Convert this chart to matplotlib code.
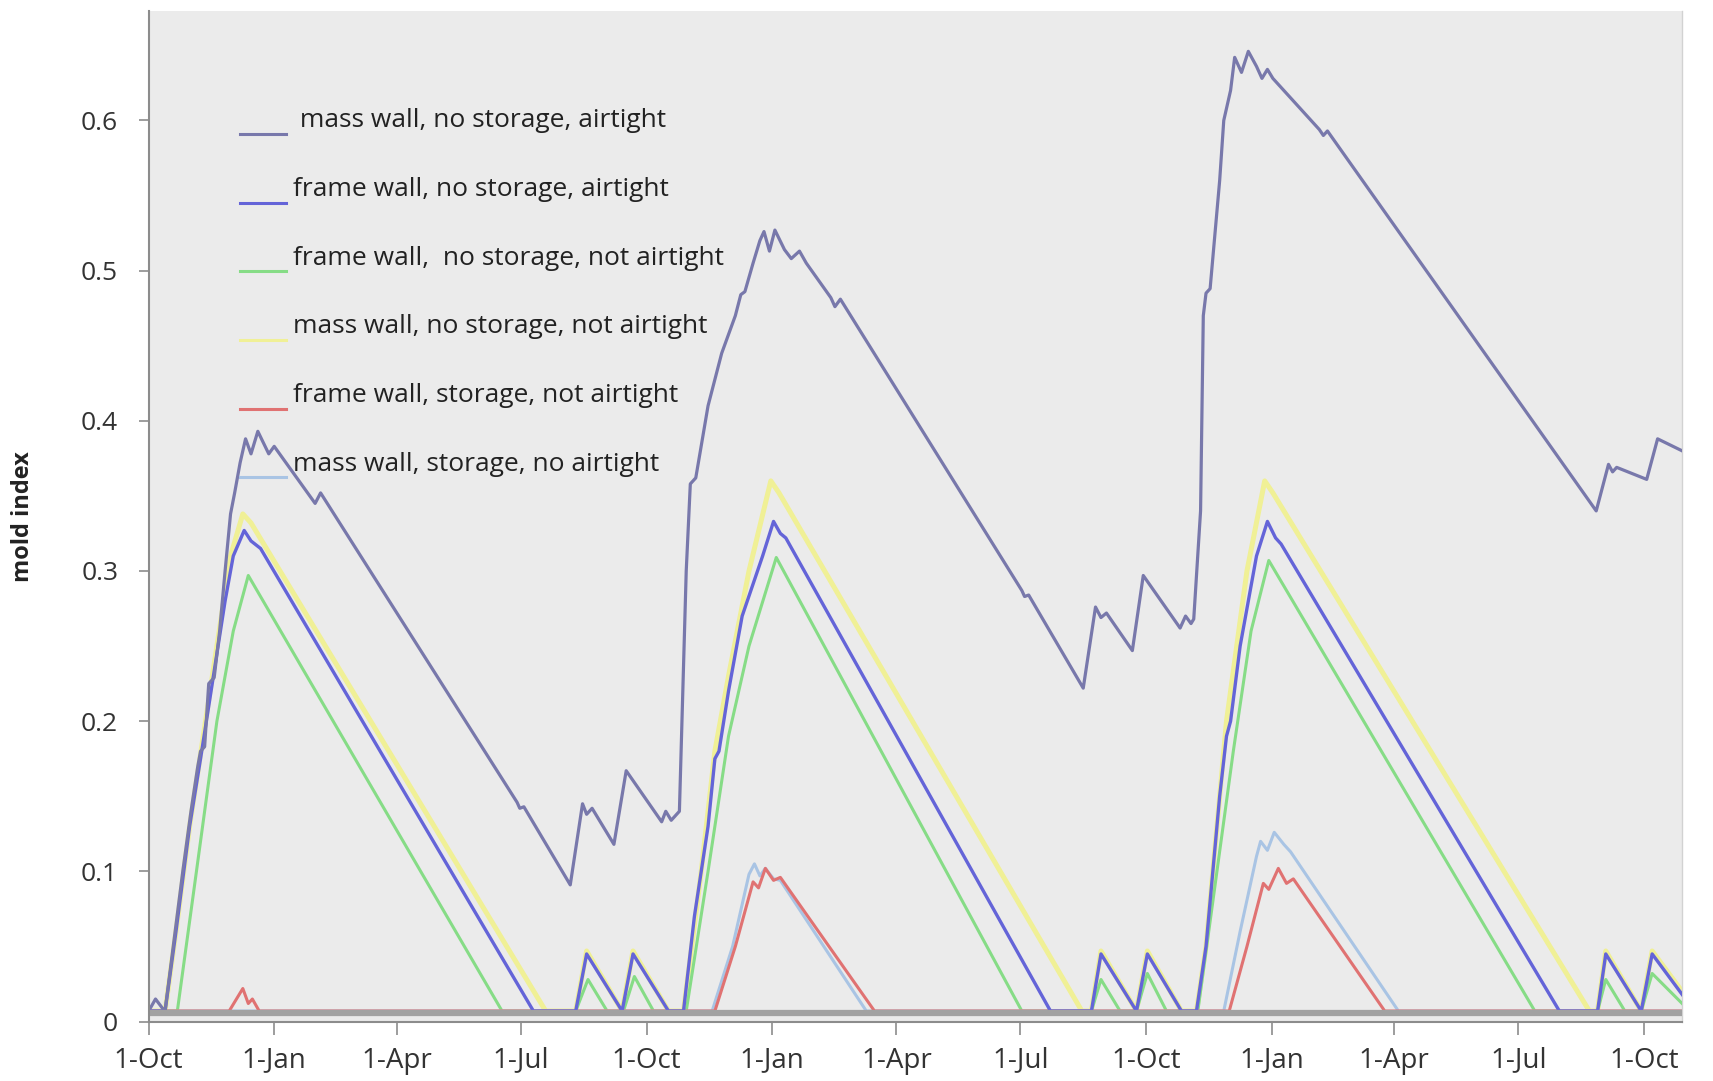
import pandas as pd
import matplotlib.pyplot as plt
import matplotlib.dates as mdates
from matplotlib.ticker import FuncFormatter

# data: (days after the first 1-Oct, mold index)
start_date = pd.Timestamp('2010-10-01')
end_day = 1124
baseline = 0.006

labels = [' mass wall, no storage, airtight',
          'frame wall, no storage, airtight',
          'frame wall,  no storage, not airtight',
          'mass wall, no storage, not airtight',
          'frame wall, storage, not airtight',
          'mass wall, storage, no airtight']

mass_airtight = [(0, 0.007), (5, 0.015), (10, 0.009), (12, 0.007), (18, 0.05), (25, 0.1), (31, 0.14),
                 (36, 0.17), (38, 0.18), (41, 0.183), (44, 0.225), (48, 0.229), (52, 0.26), (56, 0.3),
                 (60, 0.338), (63, 0.352), (67, 0.372), (71, 0.388), (75, 0.378), (80, 0.393), (88, 0.378),
                 (92, 0.383), (122, 0.345), (126, 0.352), (270, 0.146), (272, 0.142), (275, 0.143),
                 (309, 0.091), (318, 0.145), (321, 0.138), (325, 0.142), (341, 0.118), (350, 0.167),
                 (376, 0.133), (379, 0.14), (383, 0.134), (386, 0.137), (389, 0.14), (394, 0.3),
                 (397, 0.358), (401, 0.362), (410, 0.41), (420, 0.445), (430, 0.47), (434, 0.484),
                 (437, 0.486), (443, 0.505), (448, 0.52), (451, 0.526), (455, 0.513), (459, 0.527),
                 (466, 0.514), (471, 0.508), (477, 0.513), (482, 0.505), (500, 0.482), (503, 0.476),
                 (507, 0.481), (640, 0.287), (642, 0.283), (645, 0.284), (685, 0.222), (694, 0.276),
                 (698, 0.269), (702, 0.272), (721, 0.247), (729, 0.297), (756, 0.262), (760, 0.27),
                 (764, 0.265), (766, 0.268), (771, 0.34), (773, 0.47), (775, 0.485), (778, 0.488),
                 (785, 0.56), (788, 0.6), (793, 0.62), (796, 0.642), (801, 0.632), (806, 0.646),
                 (812, 0.636), (816, 0.628), (820, 0.634), (824, 0.628), (858, 0.594), (861, 0.59),
                 (864, 0.593), (1061, 0.34), (1070, 0.371), (1073, 0.366), (1076, 0.369), (1098, 0.361),
                 (1106, 0.388), (1124, 0.38)]

frame_airtight = [(0, 0.007), (12, 0.007), (20, 0.06), (30, 0.13), (38, 0.175), (44, 0.21), (50, 0.245),
                  (56, 0.28), (62, 0.31), (70, 0.327), (75, 0.32), (82, 0.315), (282, 0.007), (313, 0.007),
                  (321, 0.045), (347, 0.007), (355, 0.045), (381, 0.007), (392, 0.007), (400, 0.07),
                  (410, 0.13), (415, 0.175), (418, 0.18), (425, 0.22), (435, 0.27), (450, 0.31),
                  (458, 0.333), (463, 0.325), (467, 0.322), (661, 0.007), (691, 0.007), (698, 0.045),
                  (724, 0.007), (732, 0.045), (757, 0.007), (768, 0.007), (775, 0.05), (785, 0.15),
                  (790, 0.19), (793, 0.2), (800, 0.25), (812, 0.31), (820, 0.333), (826, 0.322),
                  (830, 0.318), (1034, 0.007), (1062, 0.007), (1068, 0.045), (1094, 0.007),
                  (1102, 0.045), (1124, 0.018)]

frame_not_airtight = [(0, 0.007), (21, 0.007), (35, 0.1), (50, 0.2), (62, 0.26), (73, 0.297), (259, 0.007),
                      (313, 0.007), (322, 0.028), (336, 0.007), (348, 0.007), (356, 0.03), (370, 0.007),
                      (394, 0.007), (410, 0.1), (425, 0.19), (440, 0.25), (460, 0.309), (640, 0.007),
                      (691, 0.007), (698, 0.028), (712, 0.007), (724, 0.007), (732, 0.032), (746, 0.007),
                      (769, 0.007), (780, 0.08), (795, 0.18), (808, 0.26), (821, 0.307), (1016, 0.007),
                      (1062, 0.007), (1068, 0.028), (1082, 0.007), (1094, 0.007), (1102, 0.032),
                      (1124, 0.012)]

mass_not_airtight = [(0, 0.007), (12, 0.007), (20, 0.06), (30, 0.13), (40, 0.19), (50, 0.25), (60, 0.31),
                     (69, 0.338), (75, 0.332), (291, 0.007), (313, 0.007), (321, 0.047), (347, 0.007),
                     (355, 0.047), (381, 0.007), (392, 0.007), (405, 0.1), (415, 0.18), (425, 0.23),
                     (440, 0.3), (456, 0.36), (462, 0.352), (684, 0.007), (691, 0.007), (698, 0.047),
                     (724, 0.007), (732, 0.047), (757, 0.007), (768, 0.007), (775, 0.05), (790, 0.2),
                     (805, 0.3), (818, 0.36), (824, 0.352), (1056, 0.007), (1062, 0.007), (1068, 0.047),
                     (1094, 0.007), (1102, 0.047), (1124, 0.02)]

frame_storage = [(0, 0.007), (59, 0.007), (69, 0.022), (73, 0.012), (76, 0.015), (81, 0.007), (415, 0.007),
                 (430, 0.05), (443, 0.093), (447, 0.089), (452, 0.102), (458, 0.094), (463, 0.096),
                 (532, 0.007), (792, 0.007), (805, 0.05), (817, 0.092), (821, 0.088), (828, 0.102),
                 (834, 0.092), (839, 0.095), (906, 0.007), (1124, 0.007)]

mass_storage = [(0, 0.007), (413, 0.007), (428, 0.05), (440, 0.098), (444, 0.105), (448, 0.097),
                (452, 0.102), (458, 0.095), (463, 0.094), (526, 0.007), (788, 0.007), (800, 0.06),
                (812, 0.11), (815, 0.12), (820, 0.114), (825, 0.126), (832, 0.118), (837, 0.113),
                (916, 0.007), (1124, 0.007)]

series = [mass_airtight, frame_airtight, frame_not_airtight, mass_not_airtight, frame_storage, mass_storage]
colors = ['#7878ab', '#6464d8', '#86dc86', '#f0f096', '#e07272', '#a9c4e4']
widths = [2.3, 2.4, 2.2, 3.6, 2.2, 2.2]
draw_order = [3, 2, 5, 4, 1, 0]

plt.rcParams['font.family'] = ['Open Sans', 'DejaVu Sans']

fig = plt.figure(figsize=(17.13, 10.81), dpi=100)
ax = fig.add_axes([0.0868, 0.055, 0.8952, 0.935])
ax.set_facecolor('#ebebeb')

for i in draw_order:
    days, vals = zip(*series[i])
    dates = start_date + pd.to_timedelta(list(days), unit='D')
    ax.plot(dates, vals, color=colors[i], linewidth=widths[i], zorder=2 + draw_order.index(i))

# grey band where all curves sit near zero
ax.axhline(baseline, color='#a2a2a2', linewidth=4.5, zorder=10)

ax.set_xlim(start_date, start_date + pd.Timedelta(days=end_day))
ax.set_ylim(0, 0.673)
ax.set_yticks([0, 0.1, 0.2, 0.3, 0.4, 0.5, 0.6])
ax.yaxis.set_major_formatter(FuncFormatter(lambda v, p: '0' if v == 0 else f'{v:.1f}'))

ax.xaxis.set_major_locator(mdates.MonthLocator(bymonth=[1, 4, 7, 10]))
ax.xaxis.set_major_formatter(FuncFormatter(
    lambda v, p: f"{mdates.num2date(v).day}-{mdates.num2date(v).strftime('%b')}"))

ax.spines['top'].set_visible(False)
ax.spines['right'].set_color('#d2d2d2')
ax.spines['right'].set_linewidth(1.0)
for s in ['left', 'bottom']:
    ax.spines[s].set_color('#8c8c8c')
    ax.spines[s].set_linewidth(1.5)
    ax.spines[s].set_zorder(11)

ax.tick_params(axis='y', length=7, width=1.2, color='#8c8c8c', pad=15, labelsize=19, labelcolor='#333333')
ax.tick_params(axis='x', length=9, width=1.2, color='#8c8c8c', pad=9, labelsize=20, labelcolor='#333333')

ax.set_ylabel('mold index', fontsize=17, fontweight='bold', color='#222222')
ax.yaxis.set_label_coords(-0.074, 0.5)

# legend drawn by hand: short line slightly below each label
for i, lab in enumerate(labels):
    y = 0.891 - i * 0.0679
    ax.plot([0.0598, 0.0897], [y - 0.013, y - 0.013], transform=ax.transAxes,
            color=colors[i], linewidth=2.2, zorder=12)
    ax.text(0.094, y, lab, transform=ax.transAxes, fontsize=19, va='center', ha='left',
            color='#222222', zorder=12)

fig.savefig('out.png', dpi=100)
